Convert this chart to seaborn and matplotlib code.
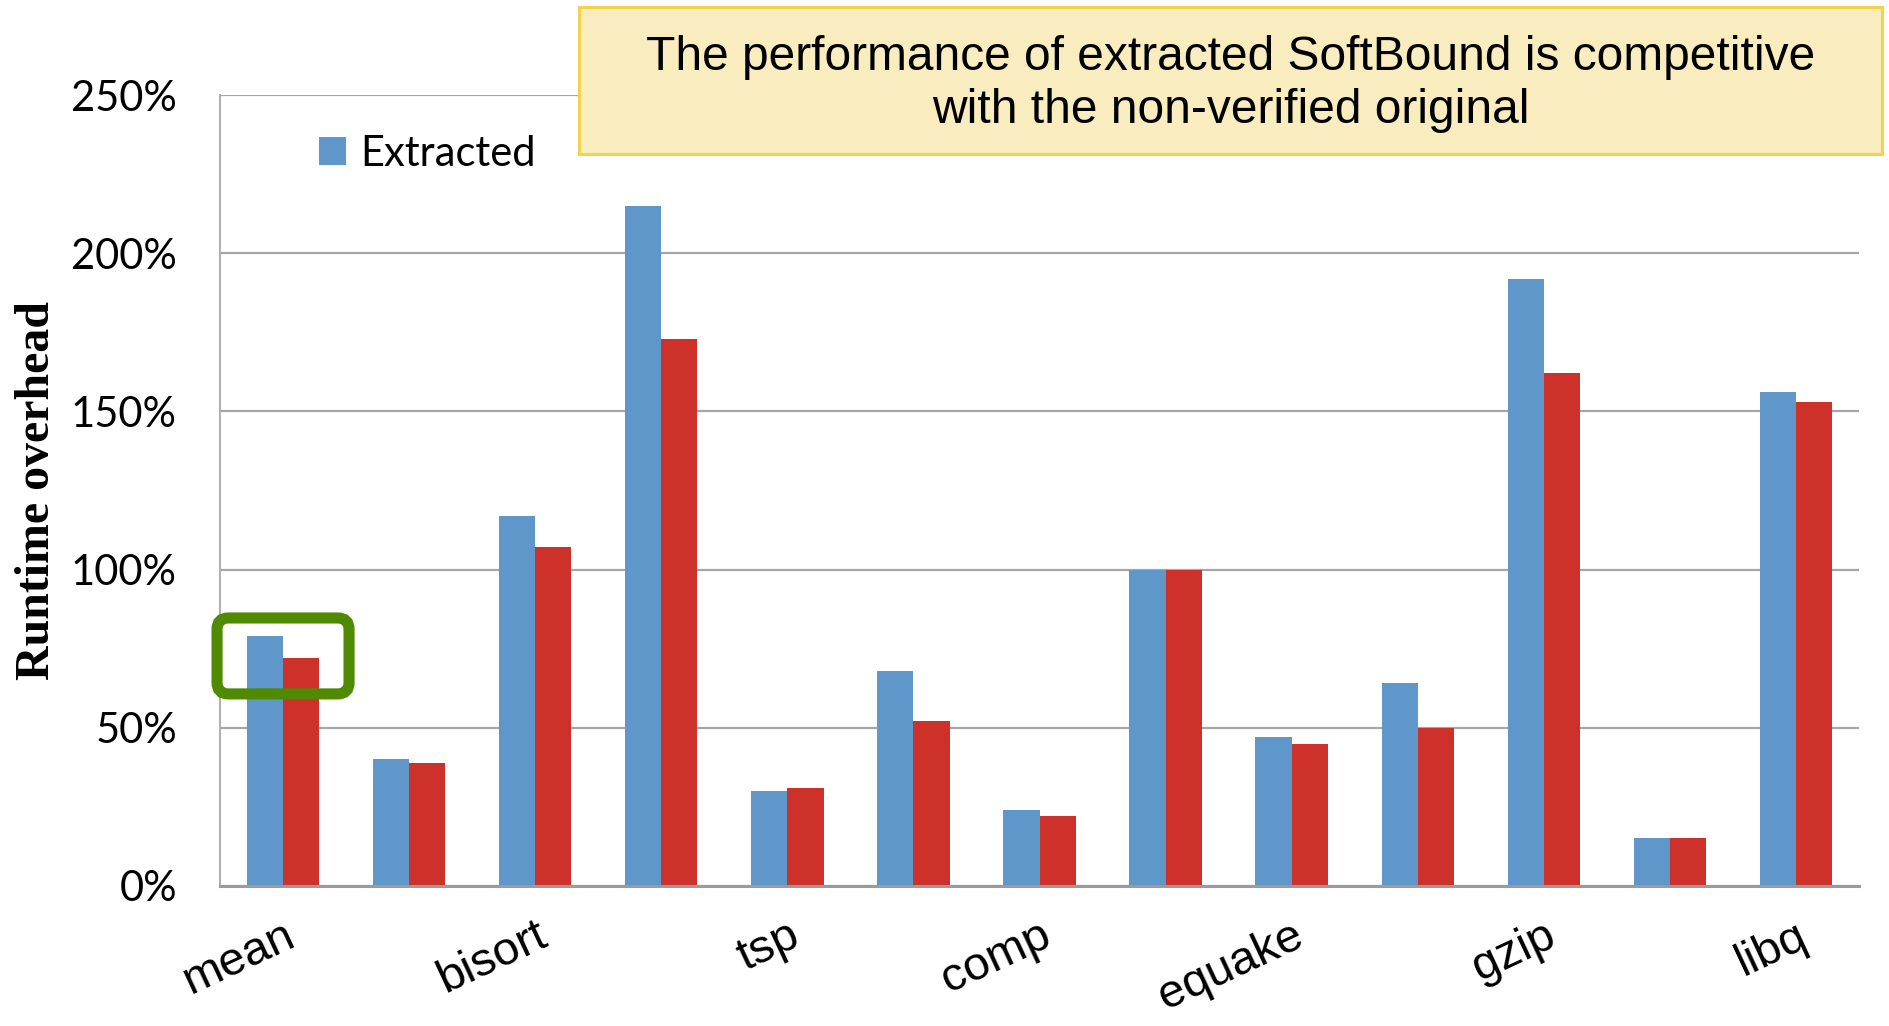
import pandas as pd
import numpy as np
import matplotlib.pyplot as plt
import seaborn as sns
from matplotlib.patches import FancyBboxPatch, Rectangle

# datos (porcentaje de sobrecarga)
benchmarks = ["mean", "bh", "bisort", "em3d", "tsp", "health", "comp",
              "go", "equake", "art", "gzip", "lbm", "libq"]
etiquetas_x = ["mean", "", "bisort", "", "tsp", "", "comp",
               "", "equake", "", "gzip", "", "libq"]
extraido = [79, 40, 117, 215, 30, 68, 24, 100, 47, 64, 192, 15, 156]
original = [72, 39, 107, 173, 31, 52, 22, 100, 45, 50, 162, 15, 153]
series = ["Extracted", "Original"]
ticks_y = [0, 50, 100, 150, 200, 250]
etiquetas_y = ["0%", "50%", "100%", "150%", "200%", "250%"]

df = pd.DataFrame({
    "bench": benchmarks * 2,
    "serie": [series[0]] * len(benchmarks) + [series[1]] * len(benchmarks),
    "valor": extraido + original,
})

sns.set_style("white")
plt.rcParams['font.family'] = ['Lato', 'DejaVu Sans']
plt.rcParams['text.color'] = 'black'
plt.rcParams['ytick.labelcolor'] = 'black'
plt.rcParams['xtick.labelcolor'] = 'black'
plt.rcParams['axes.labelcolor'] = 'black'

fig = plt.figure(figsize=(18.89, 10.26), dpi=100)
ax = fig.add_axes([0.1165, 0.1365, 0.8676, 0.7709])

colores = {"Extracted": "#6097CA", "Original": "#CD312A"}
sns.barplot(data=df, x="bench", y="valor", hue="serie", order=benchmarks,
            hue_order=series, palette=colores, width=0.574, linewidth=0,
            saturation=1, ax=ax, zorder=2)

ax.set_xlim(-0.5, len(benchmarks) - 0.5)
ax.set_ylim(0, 250)
ax.set_yticks(ticks_y)
ax.set_yticklabels(etiquetas_y, fontsize=30)
ax.yaxis.grid(True, color="#A6A6A6", linewidth=1.6, zorder=0)
ax.set_axisbelow(True)
ax.tick_params(axis="y", length=9, width=1.5, color="#A6A6A6", pad=22)
ax.tick_params(axis="x", length=0, pad=20)

ax.set_xticks(range(len(benchmarks)))
ax.set_xticklabels(etiquetas_x, rotation=25, ha="right", va="top",
                   rotation_mode="anchor", fontsize=34,
                   family=["Liberation Sans"])

for lado in ["top", "right"]:
    ax.spines[lado].set_visible(False)
ax.spines["left"].set_color("#B0B0B0")
ax.spines["left"].set_linewidth(1.5)
ax.spines["bottom"].set_color("#9B9B9B")
ax.spines["bottom"].set_linewidth(2.2)

ax.set_xlabel("")
ax.set_ylabel("Runtime overhead", fontsize=34.5, fontweight="bold",
              family=["Liberation Serif"], labelpad=9)

# leyenda: solo la serie "Extracted" es visible en el original
handles, labels = ax.get_legend_handles_labels()
ax.legend(handles[:1], labels[:1], loc="center left",
          bbox_to_anchor=(0.1689, 0.850),
          bbox_transform=fig.transFigure, frameon=False, fontsize=30,
          handlelength=0.65, handleheight=0.65, handletextpad=0.35,
          borderpad=0, borderaxespad=0)

# recuadro verde sobre la media
marco = FancyBboxPatch((-0.524, 60.7), 1.047, 24.0,
                       boxstyle="round,pad=0,rounding_size=0.09",
                       mutation_aspect=39.9, fill=False,
                       edgecolor="#4F8A00", linewidth=8,
                       clip_on=False, zorder=5)
ax.add_patch(marco)

# cuadro de comentario
caja = Rectangle((0.3065, 0.8499), 0.6898, 0.1433, transform=fig.transFigure,
                 facecolor="#F9ECBE", edgecolor="#F3D24C", linewidth=2.2,
                 zorder=10)
fig.patches.append(caja)
fig.text(0.6514, 0.918,
         "The performance of extracted SoftBound is competitive\nwith the non-verified original",
         ha="center", va="center", fontsize=34.5, linespacing=1.22,
         color="black", family=["Liberation Sans"], zorder=11)

plt.savefig("out.png", dpi=100)
